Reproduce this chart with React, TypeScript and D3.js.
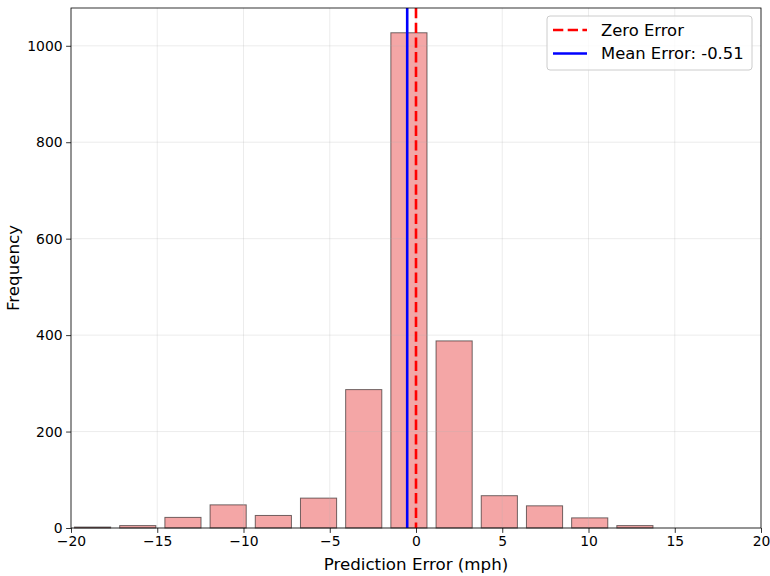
import React, { useEffect, useRef } from "react";
import * as d3 from "d3";

// histogram bin edges (mph) and counts
const binEdges = [-20.06, -17.44, -14.82, -12.2, -9.58, -6.96, -4.34, -1.72, 0.9, 3.52, 6.14, 8.76, 11.38, 14.0];
const counts = [2, 5, 22, 48, 26, 62, 287, 1027, 388, 67, 46, 21, 5];
const xTicks = [-20, -15, -10, -5, 0, 5, 10, 15, 20];
const yTicks = [0, 200, 400, 600, 800, 1000];
const meanError = -0.51;

const W = 770;
const H = 576;

function App() {
  const svgRef = useRef<SVGSVGElement>(null);

  useEffect(() => {
    const svg = d3.select(svgRef.current);
    svg.selectAll("*").remove();
    const font = "DejaVu Sans, sans-serif";
    const margin = { top: 8, right: 9, bottom: 48, left: 71 };
    const width = W - margin.left - margin.right;
    const height = H - margin.top - margin.bottom;

    const x = d3.scaleLinear().domain([-20, 20]).range([0, width]);
    const y = d3.scaleLinear().domain([0, 1027 * 1.05]).range([height, 0]);

    const g = svg.append("g").attr("transform", `translate(${margin.left},${margin.top})`);

    // bars (rwidth 0.8)
    const bins = counts.map((c, i) => ({ x0: binEdges[i], x1: binEdges[i + 1], c }));
    g.selectAll(".bar")
      .data(bins)
      .enter()
      .append("rect")
      .attr("class", "bar")
      .attr("x", (d) => x(d.x0 + (d.x1 - d.x0) * 0.1))
      .attr("width", (d) => x(d.x0 + (d.x1 - d.x0) * 0.9) - x(d.x0 + (d.x1 - d.x0) * 0.1))
      .attr("y", (d) => y(d.c))
      .attr("height", (d) => height - y(d.c))
      .attr("fill", "#f08080")
      .attr("fill-opacity", 0.7)
      .attr("stroke", "#000")
      .attr("stroke-opacity", 0.55)
      .attr("stroke-width", 1);

    // grid
    g.selectAll(".gx")
      .data(xTicks)
      .enter()
      .append("line")
      .attr("x1", (d) => x(d))
      .attr("x2", (d) => x(d))
      .attr("y1", 0)
      .attr("y2", height)
      .attr("stroke", "#b0b0b0")
      .attr("stroke-opacity", 0.3)
      .attr("stroke-width", 0.8);
    g.selectAll(".gy")
      .data(yTicks)
      .enter()
      .append("line")
      .attr("x1", 0)
      .attr("x2", width)
      .attr("y1", (d) => y(d))
      .attr("y2", (d) => y(d))
      .attr("stroke", "#b0b0b0")
      .attr("stroke-opacity", 0.3)
      .attr("stroke-width", 0.8);

    const dash = "10.3,4.4";

    // reference lines
    g.append("line")
      .attr("x1", x(0))
      .attr("x2", x(0))
      .attr("y1", 0)
      .attr("y2", height)
      .attr("stroke", "red")
      .attr("stroke-width", 2.6)
      .attr("stroke-dasharray", dash);
    g.append("line")
      .attr("x1", x(meanError))
      .attr("x2", x(meanError))
      .attr("y1", 0)
      .attr("y2", height)
      .attr("stroke", "blue")
      .attr("stroke-width", 2.6);

    // axes
    const fmt = (d: d3.NumberValue) => (+d < 0 ? "\u2212" + Math.abs(+d) : String(d));
    const xAxis = g
      .append("g")
      .attr("transform", `translate(0,${height})`)
      .call(d3.axisBottom(x).tickValues(xTicks).tickFormat(fmt).tickSize(4.9).tickPadding(3.5));
    const yAxis = g
      .append("g")
      .call(d3.axisLeft(y).tickValues(yTicks).tickFormat(fmt).tickSize(4.9).tickPadding(3.5));
    [xAxis, yAxis].forEach((a) => {
      a.select(".domain").remove();
      a.selectAll("text").attr("font-family", font).attr("font-size", 13.9).attr("fill", "#000");
      a.selectAll("line").attr("stroke", "#000").attr("stroke-width", 0.8);
    });

    // frame
    g.append("rect")
      .attr("width", width)
      .attr("height", height)
      .attr("fill", "none")
      .attr("stroke", "#000")
      .attr("stroke-width", 0.8);

    // labels
    svg.append("text")
      .attr("x", margin.left + width / 2)
      .attr("y", H - 6)
      .attr("text-anchor", "middle")
      .attr("font-family", font)
      .attr("font-size", 16.7)
      .text("Prediction Error (mph)");
    svg.append("text")
      .attr("transform", `translate(19,${margin.top + height / 2}) rotate(-90)`)
      .attr("text-anchor", "middle")
      .attr("font-family", font)
      .attr("font-size", 16.7)
      .text("Frequency");

    // legend
    const lg = svg.append("g").attr("transform", "translate(547,16)");
    lg.append("rect")
      .attr("width", 205)
      .attr("height", 54)
      .attr("rx", 3)
      .attr("fill", "#fff")
      .attr("fill-opacity", 0.8)
      .attr("stroke", "#cccccc");
    const items = [
      { label: "Zero Error", color: "red", dash: dash },
      { label: `Mean Error: ${meanError.toFixed(2)}`, color: "blue", dash: null },
    ];
    items.forEach((it, i) => {
      const cy = 14 + i * 23.5;
      lg.append("line")
        .attr("x1", 6)
        .attr("x2", 40)
        .attr("y1", cy)
        .attr("y2", cy)
        .attr("stroke", it.color)
        .attr("stroke-width", 2.6)
        .attr("stroke-dasharray", it.dash);
      lg.append("text")
        .attr("x", 54)
        .attr("y", cy)
        .attr("dy", "0.36em")
        .attr("font-family", font)
        .attr("font-size", 16.4)
        .text(it.label);
    });
  }, []);

  return (
    <div style={{ position: "absolute", left: 0, top: 0 }}>
      <svg ref={svgRef} width={W} height={H} style={{ display: "block", background: "#fff" }}></svg>
    </div>
  );
}

export default App;
